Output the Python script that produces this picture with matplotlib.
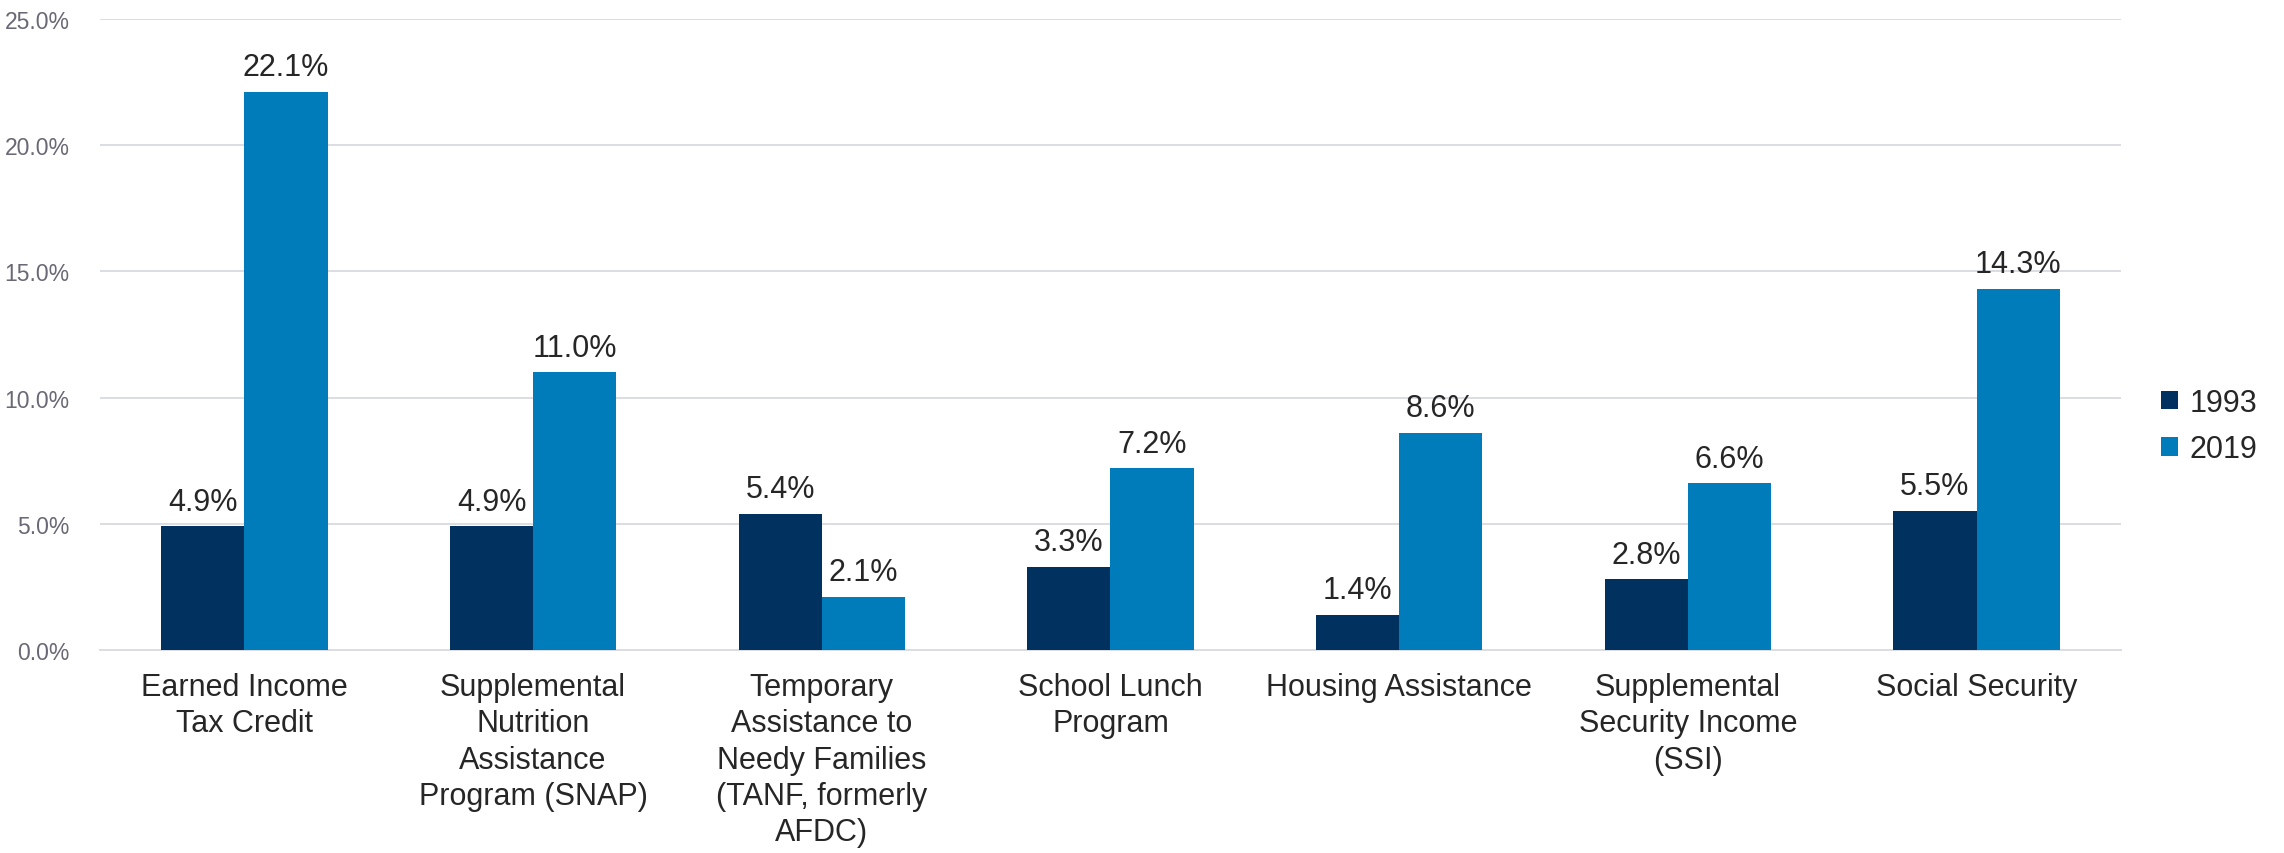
import numpy as np
import matplotlib.pyplot as plt
from matplotlib.ticker import PercentFormatter

plt.rcParams['font.family'] = ['Liberation Sans', 'DejaVu Sans']

programs = [
    "Earned Income\nTax Credit",
    "Supplemental\nNutrition\nAssistance\nProgram (SNAP)",
    "Temporary\nAssistance to\nNeedy Families\n(TANF, formerly\nAFDC)",
    "School Lunch\nProgram",
    "Housing Assistance",
    "Supplemental\nSecurity Income\n(SSI)",
    "Social Security",
]
share_1993 = [4.9, 4.9, 5.4, 3.3, 1.4, 2.8, 5.5]
share_2019 = [22.1, 11.0, 2.1, 7.2, 8.6, 6.6, 14.3]
years = ["1993", "2019"]
colors = ["#00315F", "#007CBA"]

text_col = "#262626"
grid_col = "#DCDCE3"

fig = plt.figure(figsize=(22.84, 8.54), dpi=100)
ax = fig.add_axes([0.0438, 0.2377, 0.8848, 0.7389])

x = np.arange(len(programs))
w = 0.288
b1 = ax.bar(x - w / 2, share_1993, w, color=colors[0], label=years[0], zorder=3)
b2 = ax.bar(x + w / 2, share_2019, w, color=colors[1], label=years[1], zorder=3)

for bars in (b1, b2):
    for r in bars:
        ax.annotate(f"{r.get_height():.1f}%",
                    (r.get_x() + r.get_width() / 2, r.get_height()),
                    xytext=(0, 7), textcoords="offset points",
                    ha="center", va="bottom", fontsize=22, color=text_col)

ax.set_xlim(-0.5, len(programs) - 0.5)
ax.set_ylim(0, 25)
ax.set_yticks(np.arange(0, 26, 5))
ax.yaxis.set_major_formatter(PercentFormatter(decimals=1))
ax.set_xticks(x)
ax.set_xticklabels(programs, fontsize=22, color=text_col, linespacing=1.27)
ax.tick_params(axis="x", length=0, pad=16)
ax.tick_params(axis="y", length=0, pad=22, labelsize=16.5, labelcolor="#6B6876")

ax.grid(axis="y", color=grid_col, linewidth=1.4, zorder=0)
for s in ax.spines.values():
    s.set_visible(False)
ax.spines["bottom"].set_visible(True)
ax.spines["bottom"].set_color(grid_col)
ax.spines["bottom"].set_linewidth(1.4)

fig.legend(loc="center left", bbox_to_anchor=(0.934, 0.5), frameon=False,
           fontsize=22, handlelength=0.55, handleheight=0.55,
           handletextpad=0.4, labelspacing=0.55, labelcolor=text_col)

fig.savefig("out.png", dpi=100)
